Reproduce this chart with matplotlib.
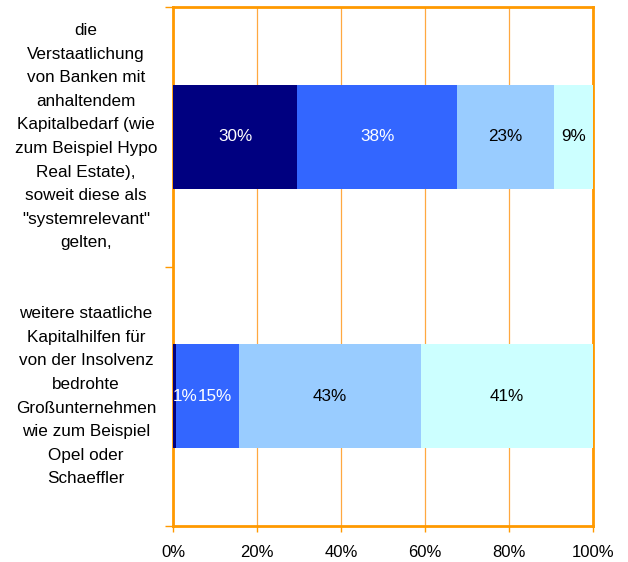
import matplotlib.pyplot as plt
import matplotlib.transforms as mtransforms

plt.rcParams['font.family'] = ['Liberation Sans', 'DejaVu Sans']

categories = [
    'die\nVerstaatlichung\nvon Banken mit\nanhaltendem\nKapitalbedarf (wie\nzum Beispiel Hypo\nReal Estate),\nsoweit diese als\n"systemrelevant"\ngelten,',
    'weitere staatliche\nKapitalhilfen für\nvon der Insolvenz\nbedrohte\nGroßunternehmen\nwie zum Beispiel\nOpel oder\nSchaeffler',
]
# shares per answer level, one list per segment (top bar, bottom bar)
seg1 = [29.6, 0.8]
seg2 = [38.1, 14.8]
seg3 = [22.9, 43.4]
seg4 = [9.4, 41.0]
segments = [seg1, seg2, seg3, seg4]
colors = ['#000080', '#3366FF', '#99CCFF', '#CCFFFF']
text_colors = ['white', 'white', 'black', 'black']
xticks = [0, 20, 40, 60, 80, 100]
xticklabels = ['0%', '20%', '40%', '60%', '80%', '100%']

# Excel nudged the crowded labels of the lower bar to the right (in pixels)
label_shift = [[0, 10], [0, 7], [0, 0], [0, 0]]

orange = '#FF9900'

fig = plt.figure(figsize=(6.28, 5.62), dpi=100)
ax = fig.add_axes([173 / 628, 1 - 526 / 562, 420 / 628, 519 / 562])

ypos = [0.5, 1.5]
left = [0, 0]
for seg, col, tcol, shifts in zip(segments, colors, text_colors, label_shift):
    ax.barh(ypos, seg, left=left, height=0.4, color=col, zorder=3)
    for y, v, l, dx in zip(ypos, seg, left, shifts):
        ax.annotate(f'{v:.0f}%', (l + v / 2, y), xytext=(dx * 0.72, 0),
                    textcoords='offset points', ha='center', va='center',
                    color=tcol, fontsize=12.3, zorder=4, annotation_clip=False,
                    clip_on=True)
    left = [a + b for a, b in zip(left, seg)]

ax.set_xlim(0, 100)
ax.set_ylim(2, 0)
ax.set_xticks(xticks)
ax.set_xticklabels(xticklabels, fontsize=12)
ax.set_yticks([0, 1, 2])
ax.set_yticklabels([])
ax.tick_params(axis='x', colors=orange, labelcolor='black', length=4, width=1, pad=9.5)
ax.tick_params(axis='y', colors=orange, length=6, width=1)
ax.xaxis.grid(True, color='#FFA840', linewidth=0.9, zorder=0)
for s in ax.spines.values():
    s.set_color(orange)
    s.set_linewidth(2)

trans = mtransforms.blended_transform_factory(ax.transAxes, ax.transData)
for y, lab in zip(ypos, categories):
    ax.text(-0.207, y, lab, ha='center', va='center', transform=trans,
            fontsize=12.3, linespacing=1.71)

fig.savefig('out.png', dpi=100)
